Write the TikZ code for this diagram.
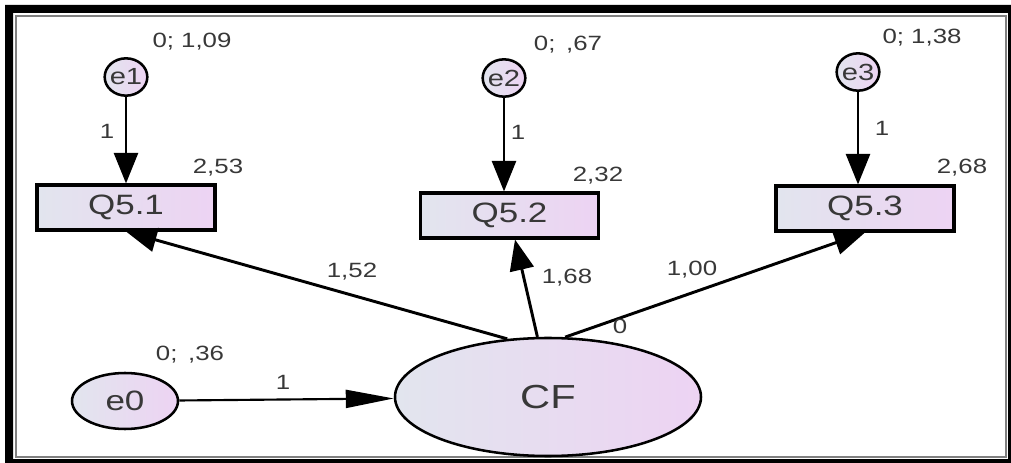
\documentclass[tikz,border=0pt]{standalone}
\usepackage{fontspec}
\setmainfont[FakeStretch=1.25]{Liberation Sans}
\usetikzlibrary{shapes.geometric, arrows.meta}
\definecolor{shadeL}{HTML}{E2E5EE}
\definecolor{shadeR}{HTML}{EDD3F3}
\definecolor{txt}{HTML}{383838}
\tikzset{
  obs/.style={draw, rectangle, line width=2.3pt, left color=shadeL, right color=shadeR,
    minimum width=133.5pt, minimum height=33.75pt, inner sep=0pt,
    font=\fontsize{21}{21}\selectfont, text=txt},
  err/.style={draw, ellipse, line width=1.9pt, left color=shadeL, right color=shadeR,
    minimum width=32pt, minimum height=28pt, inner xsep=-2pt, inner ysep=0pt,
    font=\fontsize{17.5}{17.5}\selectfont, text=txt},
  lat/.style={draw, ellipse, line width=1.9pt, left color=shadeL, right color=shadeR,
    minimum width=229.5pt, minimum height=88.5pt, inner sep=0pt,
    font=\fontsize{25}{25}\selectfont, text=txt},
  val/.style={font=\fontsize{15.5}{15.5}\selectfont, text=txt, inner sep=0pt},
  reg/.style={-{Triangle[length=23pt,width=18pt]}, line width=2.2pt},
}

\begin{document}
\begin{tikzpicture}[x=0.75pt, y=-0.75pt]
\useasboundingbox (0,0) rectangle (1011,463);
% frame
\fill[black, even odd rule] (5,5) rectangle (1011,463) (13,13) rectangle (1008,459);
\draw[gray, line width=1.5pt] (16,16) rectangle (1006,457);

% error terms
\node[err] (e1) at (126,77) {e1};
\node[err] (e2) at (504,78) {e2};
\node[err] (e3) at (858,72) {e3};
\node[err, minimum width=79.5pt, minimum height=42pt, font=\fontsize{21}{21}\selectfont] (e0) at (125,401) {e0};

% observed variables
\node[obs] (Q51) at (126,207.5) {Q5.1};
\node[obs] (Q52) at (509.5,215.5) {Q5.2};
\node[obs] (Q53) at (865,208.5) {Q5.3};

% latent factor
\node[lat] (CF) at (548,397) {CF};

% paths
\draw[reg] (e1.south) -- (e1.south |- Q51.north);
\draw[reg] (e2.south) -- (e2.south |- Q52.north);
\draw[reg] (e3.south) -- (e3.south |- Q53.north);
\draw[reg] (CF.125) -- (Q51.south);
\draw[reg] (CF.100) -- (Q52);
\draw[reg] (CF.74) -- (Q53.south);
\draw[-{Triangle[length=36pt,width=13.5pt]}, line width=1.6pt] (e0) -- (CF);

% estimates
\node[val] (v1) at (192,42) {0; 1,09};
\node[val] (v2) at (568,45) {0;\, ,67};
\node[val] (v3) at (922,38) {0; 1,38};
\node[val] (v0) at (190,355) {0;\, ,36};
\node[val] (w1) at (107,131) {1};
\node[val] (w2) at (518,132) {1};
\node[val] (w3) at (882,128) {1};
\node[val] (w0) at (283,382) {1};
\node[val] (i1) at (218,168) {2,53};
\node[val] (i2) at (598,176) {2,32};
\node[val] (i3) at (962,168) {2,68};
\node[val] (l1) at (352,272) {1,52};
\node[val] (l2) at (567,278) {1,68};
\node[val] (l3) at (692,270) {1,00};
\node[val] (m0) at (620,326) {0};
\end{tikzpicture}
\end{document}
